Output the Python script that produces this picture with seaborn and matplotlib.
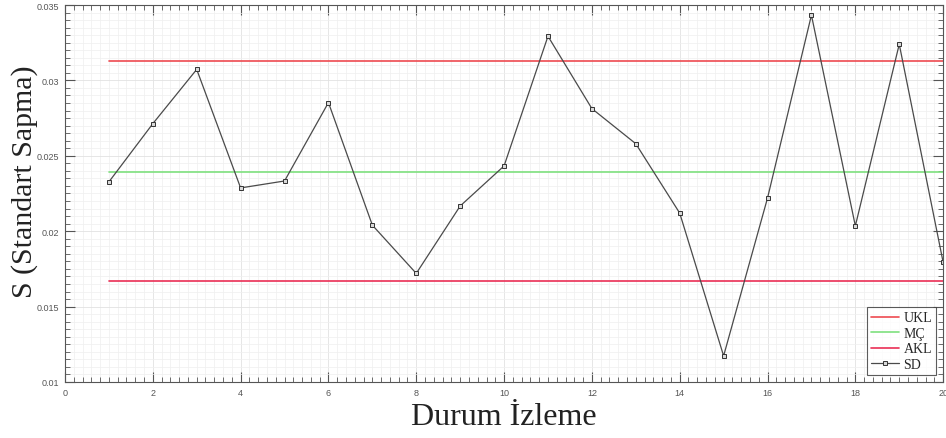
import matplotlib
matplotlib.use("Agg")
import matplotlib.pyplot as plt
from matplotlib.ticker import MultipleLocator
import numpy as np
import pandas as pd
import seaborn as sns

durum = list(range(1, 21))
sd_values = [0.02327, 0.02713, 0.03073, 0.02287, 0.02333, 0.02853, 0.02040, 0.01720,
             0.02167, 0.02433, 0.03293, 0.02813, 0.02580, 0.02120, 0.01173, 0.02220,
             0.03433, 0.02035, 0.03240, 0.01793]
ukl = 0.03127
mc = 0.02393
akl = 0.01667

sns.set_theme(style="white")
plt.rcParams['font.family'] = ['Liberation Sans', 'DejaVu Sans']

df = pd.DataFrame({
    "Durum": durum,
    "SD": sd_values,
    "UKL": [ukl] * len(durum),
    "MC": [mc] * len(durum),
    "AKL": [akl] * len(durum),
})

fig = plt.figure(figsize=(9.46, 4.39), dpi=100)
ax = fig.add_axes([0.0687, 0.1276, 0.9283, 0.8587])

sns.lineplot(data=df, x="Durum", y="UKL", ax=ax, color="#ee4a50", lw=1.2, label="UKL")
sns.lineplot(data=df, x="Durum", y="MC", ax=ax, color="#7ee07e", lw=1.2, label="MÇ")
sns.lineplot(data=df, x="Durum", y="AKL", ax=ax, color="#ea2f55", lw=1.2, label="AKL")
sns.lineplot(data=df, x="Durum", y="SD", ax=ax, color="#4a4a4a", lw=0.9, marker="s",
             markersize=3.3, markerfacecolor="#d8d8d8", markeredgecolor="#333333",
             markeredgewidth=0.7, label="SD")

ax.set_xlim(0, 20)
ax.set_ylim(0.01, 0.035)
ax.xaxis.set_major_locator(MultipleLocator(2))
ax.xaxis.set_minor_locator(MultipleLocator(0.2))
ax.yaxis.set_major_locator(MultipleLocator(0.005))
ax.yaxis.set_minor_locator(MultipleLocator(0.0005))
ax.set_yticks([0.01, 0.015, 0.02, 0.025, 0.03, 0.035])
ax.set_yticklabels(["0.01", "0.015", "0.02", "0.025", "0.03", "0.035"])
ax.set_xticks(list(range(0, 21, 2)))
ax.set_xticklabels([str(v) for v in range(0, 21, 2)])

ax.grid(which="major", color="#e2e2e2", lw=0.6)
ax.grid(which="minor", color="#efefef", lw=0.5)
ax.set_axisbelow(True)
ax.tick_params(which="both", direction="in", top=True, right=True, bottom=True, left=True,
               color="#555555", labelsize=6.5, labelcolor="#555555", pad=4)
ax.tick_params(which="major", length=7, width=0.8)
ax.tick_params(which="minor", length=3.5, width=0.6)
for s in ax.spines.values():
    s.set_color("#555555")
    s.set_linewidth(0.8)

ax.set_xlabel("Durum İzleme", family=["Liberation Serif", "DejaVu Serif"], fontsize=23,
              color="#222222")
ax.xaxis.set_label_coords(0.5, -0.052)
ax.set_ylabel("S (Standart Sapma)", family=["Liberation Serif", "DejaVu Serif"], fontsize=21.5,
              color="#222222")
ax.yaxis.set_label_coords(-0.031, 0.533)

leg = ax.legend(loc="lower right", prop={"family": ["Liberation Serif"], "size": 10},
                frameon=True, fancybox=False, borderpad=0.3, labelspacing=0.18,
                handlelength=2.0, handletextpad=0.3, borderaxespad=0.5)
leg.get_frame().set_edgecolor("#333333")
leg.get_frame().set_linewidth(0.8)

fig.savefig("out.png", dpi=100)
